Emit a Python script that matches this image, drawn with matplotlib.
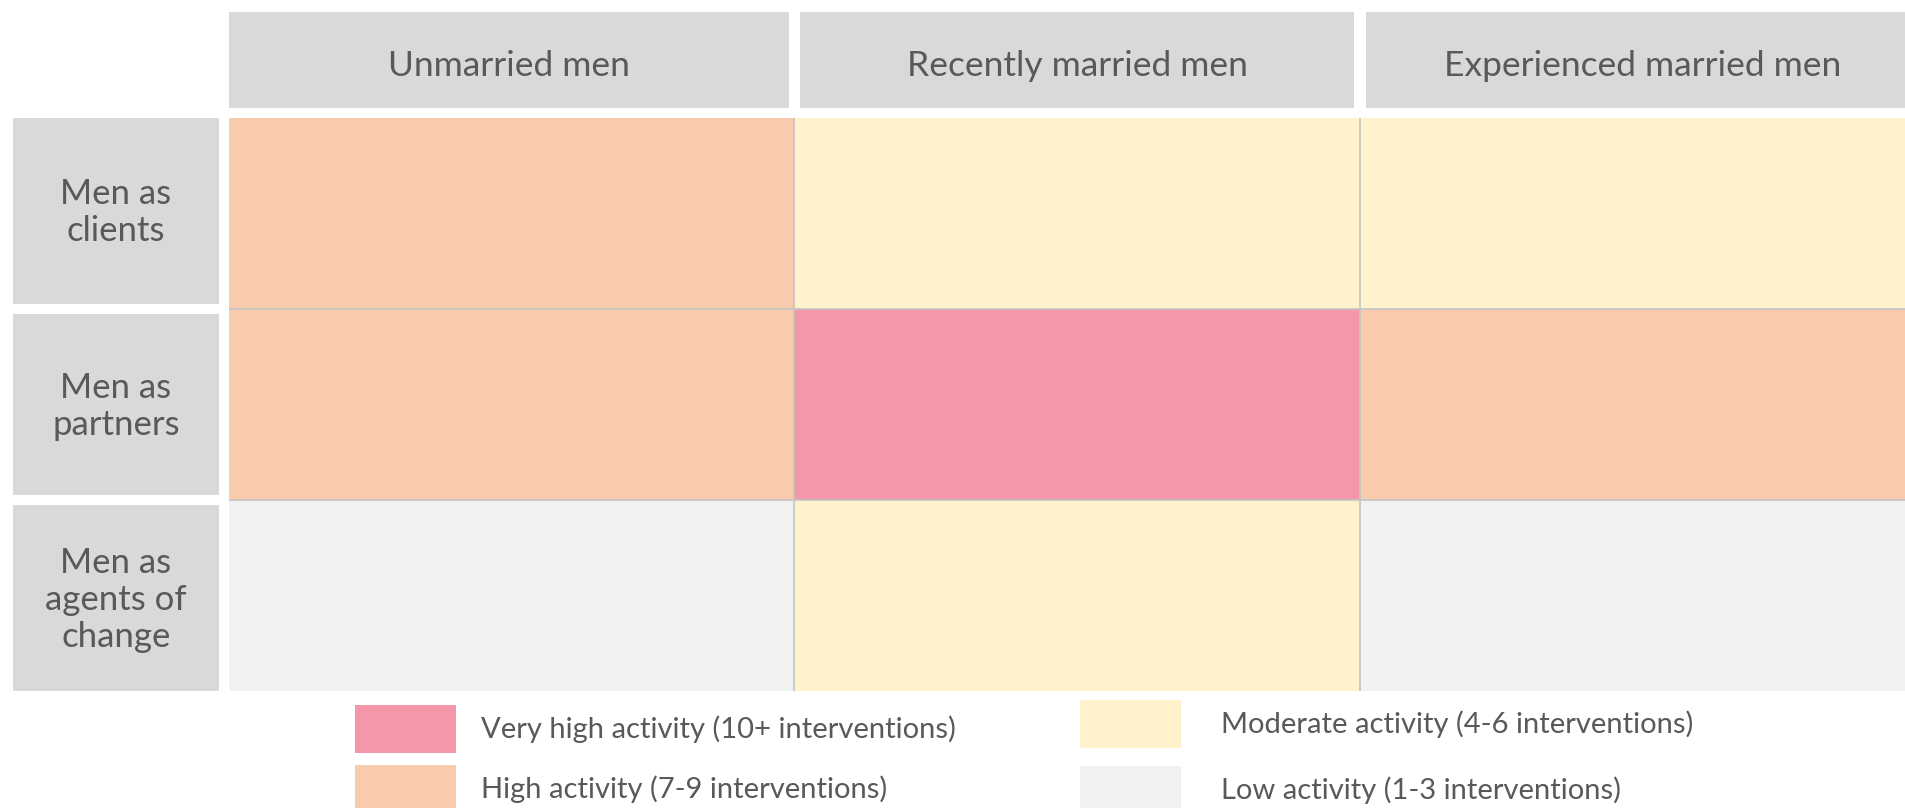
import numpy as np
import matplotlib

matplotlib.use('Agg')
import matplotlib.pyplot as plt
from matplotlib.colors import ListedColormap
from matplotlib.patches import Rectangle
import matplotlib.transforms as mtransforms

# data
col_labels = ['Unmarried men', 'Recently married men', 'Experienced married men']
row_labels = ['Men as\nclients', 'Men as\npartners', 'Men as\nagents of\nchange']
# 0 = low, 1 = moderate, 2 = high, 3 = very high
activity = [[2, 1, 1],
            [2, 3, 2],
            [0, 1, 0]]
level_labels = ['Low activity (1-3 interventions)',
                'Moderate activity (4-6 interventions)',
                'High activity (7-9 interventions)',
                'Very high activity (10+ interventions)']
level_colors = ['#F2F2F2', '#FFF2CC', '#F8CBAD', '#F397A9']

header_color = '#D9D9D9'
text_color = '#595959'
plt.rcParams['font.family'] = ['Lato', 'DejaVu Sans']

W, H = 1906, 808
fig = plt.figure(figsize=(W / 100, H / 100), dpi=100)

# grid axes, the last column runs past the right edge of the figure
left, top, bottom = 229, 118, 691
col_w = 565.5
ax = fig.add_axes([left / W, 1 - bottom / H, 3 * col_w / W, (bottom - top) / H])
ax.pcolormesh(np.array(activity), cmap=ListedColormap(level_colors), vmin=-0.5, vmax=3.5)
ax.set_xlim(0, 3)
ax.set_ylim(3, 0)
ax.axis('off')
for k in range(1, 3):
    ax.axvline(k, color='#C4C4C4', lw=1.2)
    ax.axhline(k, color='#C4C4C4', lw=1.2)

# column headers (x in data, y in axes fraction)
span = bottom - top
trans_x = mtransforms.blended_transform_factory(ax.transData, ax.transAxes)
hdr_y0 = 1 + (top - 108) / span
hdr_y1 = 1 + (top - 12) / span
hdr_base = 1 + (top - 76) / span
for j, lab in enumerate(col_labels):
    x0 = j + (0.01 if j > 0 else 0)
    x1 = j + 1 - 0.01
    ax.add_patch(Rectangle((x0, hdr_y0), x1 - x0, hdr_y1 - hdr_y0, transform=trans_x,
                           facecolor=header_color, edgecolor='none', clip_on=False))
    ax.text((x0 + x1) / 2, hdr_base, lab, transform=trans_x,
            ha='center', va='baseline', fontsize=25.5, color=text_color)

# row headers (x in axes fraction, y in data)
trans_y = mtransforms.blended_transform_factory(ax.transAxes, ax.transData)
lab_x0 = (13 - left) / (3 * col_w)
lab_x1 = (219 - left) / (3 * col_w)
for i, lab in enumerate(row_labels):
    y0 = i + (0.028 if i > 0 else 0)
    y1 = i + 1 - (0.028 if i < 2 else 0)
    ax.add_patch(Rectangle((lab_x0, y0), lab_x1 - lab_x0, y1 - y0, transform=trans_y,
                           facecolor=header_color, edgecolor='none', clip_on=False))
    ax.text((lab_x0 + lab_x1) / 2, (y0 + y1) / 2 + 0.01, lab, transform=trans_y,
            ha='center', va='center', fontsize=25, color=text_color,
            linespacing=1.2, multialignment='center')

# legend, two columns placed separately
fs = 21
fs_px = fs * 100 / 72
# legend box height = fs*(hh - 0.35*(hh - 0.7)); solve for a 48 px swatch
hh = (48 / fs_px - 0.245) / 0.65
handles = [Rectangle((0, 0), 1, 1, facecolor=c, edgecolor='none') for c in level_colors]
leg1 = fig.legend([handles[3], handles[2]], [level_labels[3], level_labels[2]],
                  loc='upper left', bbox_to_anchor=(355 / W, 1 - 705 / H),
                  frameon=False, fontsize=fs, borderpad=0, borderaxespad=0,
                  handlelength=101 / fs_px, handleheight=hh,
                  labelspacing=12 / fs_px, handletextpad=25 / fs_px,
                  labelcolor=text_color)
leg2 = fig.legend([handles[1], handles[0]], [level_labels[1], level_labels[0]],
                  loc='upper left', bbox_to_anchor=(1080 / W, 1 - 700 / H),
                  frameon=False, fontsize=fs, borderpad=0, borderaxespad=0,
                  handlelength=101 / fs_px, handleheight=hh,
                  labelspacing=18 / fs_px, handletextpad=40 / fs_px,
                  labelcolor=text_color)

fig.savefig('out.png', dpi=100)
